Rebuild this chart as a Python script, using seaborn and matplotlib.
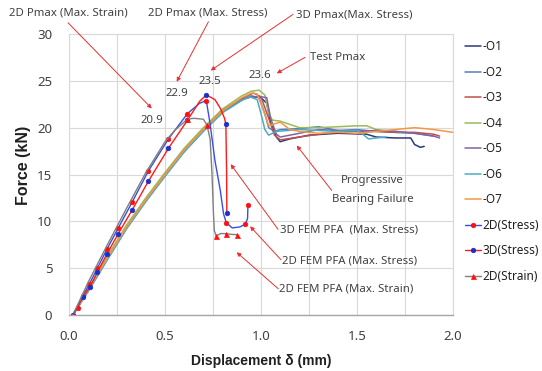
import matplotlib
matplotlib.use("Agg")
import matplotlib.pyplot as plt
from matplotlib.lines import Line2D
import seaborn as sns

# ---- measured force-displacement curves (displacement mm, force kN) ----
o1_x = [0.02, 0.1, 0.2, 0.3, 0.4, 0.5, 0.6, 0.7, 0.8, 0.9, 0.95, 1.0, 1.03, 1.05, 1.08, 1.10, 1.15, 1.25, 1.4, 1.55, 1.6, 1.7, 1.78, 1.8, 1.83, 1.85]
o1_y = [0.0, 2.6, 6.0, 9.3, 12.2, 14.9, 17.5, 19.7, 21.7, 23.0, 23.3, 23.2, 22.6, 20.5, 19.0, 18.5, 18.8, 19.2, 19.4, 19.3, 19.0, 18.9, 18.9, 18.2, 17.9, 18.0]
o2_x = [0.02, 0.1, 0.2, 0.3, 0.4, 0.5, 0.6, 0.7, 0.8, 0.9, 0.95, 0.99, 1.02, 1.04, 1.07, 1.1, 1.2, 1.3, 1.4, 1.5, 1.6, 1.7, 1.8, 1.9]
o2_y = [0.0, 2.7, 6.1, 9.4, 12.3, 15.0, 17.6, 19.8, 21.8, 23.0, 23.4, 23.2, 21.5, 20.0, 19.6, 19.8, 19.9, 20.1, 19.7, 19.8, 19.6, 19.5, 19.4, 19.1]
o3_x = [0.02, 0.1, 0.2, 0.3, 0.4, 0.5, 0.6, 0.7, 0.8, 0.9, 0.96, 1.0, 1.04, 1.07, 1.1, 1.2, 1.3, 1.4, 1.5, 1.6, 1.7, 1.8, 1.9, 1.93]
o3_y = [0.0, 2.7, 6.1, 9.5, 12.4, 15.1, 17.7, 19.9, 21.9, 23.1, 23.7, 23.3, 21.0, 19.2, 18.7, 19.0, 19.3, 19.6, 19.6, 19.6, 19.5, 19.5, 19.3, 19.1]
o4_x = [0.02, 0.1, 0.2, 0.3, 0.4, 0.5, 0.6, 0.7, 0.8, 0.9, 0.95, 0.99, 1.02, 1.04, 1.06, 1.1, 1.2, 1.3, 1.4, 1.5, 1.55, 1.6, 1.7, 1.76]
o4_y = [0.0, 2.8, 6.3, 9.6, 12.5, 15.2, 17.8, 20.0, 22.0, 23.4, 23.9, 24.0, 23.5, 21.5, 20.8, 20.7, 20.0, 20.0, 20.1, 20.2, 20.2, 19.8, 19.6, 19.5]
o5_x = [0.02, 0.1, 0.2, 0.3, 0.4, 0.5, 0.6, 0.7, 0.8, 0.9, 0.95, 1.0, 1.03, 1.05, 1.08, 1.1, 1.2, 1.3, 1.4, 1.5, 1.6, 1.7, 1.8, 1.9, 1.93]
o5_y = [0.0, 2.6, 6.0, 9.3, 12.2, 14.9, 17.5, 19.7, 21.7, 23.0, 23.3, 23.3, 23.2, 21.0, 19.3, 19.0, 19.4, 19.8, 19.7, 19.6, 19.7, 19.6, 19.4, 19.1, 18.9]
o6_x = [0.02, 0.1, 0.2, 0.3, 0.4, 0.5, 0.6, 0.7, 0.8, 0.9, 0.94, 0.98, 1.0, 1.02, 1.04, 1.08, 1.2, 1.3, 1.4, 1.5, 1.53, 1.56, 1.6, 1.65]
o6_y = [0.0, 2.5, 5.9, 9.2, 12.1, 14.8, 17.4, 19.6, 21.6, 22.9, 23.3, 23.0, 21.5, 19.8, 19.2, 19.6, 19.8, 19.7, 19.6, 19.7, 19.3, 18.8, 18.9, 19.0]
o7_x = [0.02, 0.1, 0.2, 0.3, 0.4, 0.5, 0.6, 0.7, 0.8, 0.9, 0.95, 0.98, 1.01, 1.04, 1.07, 1.1, 1.15, 1.2, 1.3, 1.4, 1.5, 1.6, 1.7, 1.8, 1.9, 2.0]
o7_y = [0.0, 2.7, 6.1, 9.4, 12.3, 15.0, 17.6, 19.8, 21.8, 23.2, 23.7, 23.6, 22.0, 20.2, 20.4, 20.6, 19.8, 19.6, 19.4, 19.5, 19.4, 19.6, 19.8, 20.0, 19.8, 19.5]

test_names = ["-O1", "-O2", "-O3", "-O4", "-O5", "-O6", "-O7"]
test_colors = ["#2b3a78", "#4f81bd", "#c0504d", "#9bbb59", "#8064a2", "#4bacc6", "#f79646"]
test_curves = [(o1_x, o1_y), (o2_x, o2_y), (o3_x, o3_y), (o4_x, o4_y),
               (o5_x, o5_y), (o6_x, o6_y), (o7_x, o7_y)]

# ---- progressive failure analysis curves ----
s2d_x = [0.02, 0.045, 0.071, 0.106, 0.148, 0.197, 0.257, 0.33, 0.414, 0.518, 0.617, 0.68, 0.715, 0.735, 0.76, 0.788, 0.805, 0.819, 0.85, 0.89, 0.918, 0.93, 0.932]
s2d_y = [0.0, 0.8, 2.0, 3.3, 5.0, 7.0, 9.3, 12.1, 15.4, 18.8, 21.5, 22.6, 22.9, 20.4, 16.5, 13.3, 10.8, 9.86, 9.3, 9.4, 9.7, 10.3, 11.75]
s2d_marks = [0, 1, 2, 3, 4, 5, 6, 7, 8, 9, 10, 12, 17, 20, 22]

s3d_x = [0.02, 0.071, 0.11, 0.148, 0.197, 0.257, 0.33, 0.414, 0.518, 0.617, 0.68, 0.715, 0.76, 0.79, 0.81, 0.817, 0.821, 0.822]
s3d_y = [0.0, 1.9, 3.0, 4.6, 6.5, 8.7, 11.25, 14.3, 17.8, 20.8, 22.8, 23.5, 23.0, 22.0, 21.0, 20.4, 15.0, 10.9]
s3d_marks = [0, 1, 2, 3, 4, 5, 6, 7, 8, 9, 11, 15, 17]

e2d_x = [0.02, 0.1, 0.2, 0.3, 0.4, 0.5, 0.55, 0.6, 0.617, 0.65, 0.70, 0.718, 0.735, 0.745, 0.752, 0.757, 0.767, 0.79, 0.819, 0.85, 0.875]
e2d_y = [0.0, 3.5, 7.5, 11.4, 15.2, 18.5, 19.7, 20.6, 20.9, 21.0, 20.9, 20.3, 18.8, 15.0, 11.0, 9.0, 8.43, 8.7, 8.68, 8.6, 8.58]
e2d_marks = [0, 8, 11, 16, 18, 20]

fem_series = [
    ("2D(Stress)", s2d_x, s2d_y, s2d_marks, "#3a4fe0", "o", "#ff1010", 3.3),
    ("3D(Stress)", s3d_x, s3d_y, s3d_marks, "#ff1a1a", "o", "#1a2fd0", 3.3),
    ("2D(Strain)", e2d_x, e2d_y, e2d_marks, "#7f7f7f", "^", "#ff1010", 3.6),
]

# ---- figure ----
sns.set_theme(style="whitegrid")
plt.rcParams["font.family"] = ["Noto Sans", "DejaVu Sans"]
txt = "#404040"
bold_font = ["Liberation Sans", "DejaVu Sans"]

fig = plt.figure(figsize=(5.42, 3.71), dpi=100)
ax = fig.add_axes([69 / 542, 1 - 315 / 371, 384 / 542, 281 / 371])

handles = []
for name, col, (xs, ys) in zip(test_names, test_colors, test_curves):
    sns.lineplot(x=xs, y=ys, sort=False, estimator=None, color=col,
                 linewidth=1.1, ax=ax)
    handles.append(Line2D([], [], color=col, linewidth=1.1, label=name))

for name, xs, ys, marks, lc, mk, mc, ms in fem_series:
    style = dict(marker=mk, markersize=ms, markerfacecolor=mc,
                 markeredgecolor=mc, markeredgewidth=0.5)
    sns.lineplot(x=xs, y=ys, sort=False, estimator=None, color=lc,
                 linewidth=1.0, markevery=marks, ax=ax, **style)
    handles.append(Line2D([], [], color=lc, linewidth=1.0, label=name, **style))

ax.set_xlim(0, 2.0)
ax.set_ylim(0, 30)
ax.set_xticks([0.0, 0.5, 1.0, 1.5, 2.0])
ax.set_xticks([0.25, 0.75, 1.25, 1.75], minor=True)
ax.set_yticks([0, 5, 10, 15, 20, 25, 30])
ax.set_xticklabels(["0.0", "0.5", "1.0", "1.5", "2.0"])
ax.grid(True, which="both", axis="x", color="#d9d9d9", linewidth=0.8)
ax.grid(True, which="major", axis="y", color="#d9d9d9", linewidth=0.8)
ax.set_axisbelow(True)
for side in ["left", "top", "right"]:
    ax.spines[side].set_color("#d9d9d9")
    ax.spines[side].set_linewidth(0.8)
ax.spines["bottom"].set_color("#a6a6a6")
ax.spines["bottom"].set_linewidth(1.0)
ax.tick_params(axis="both", which="both", length=0, labelsize=9.5, colors=txt)
ax.tick_params(axis="x", pad=11)
ax.tick_params(axis="y", pad=12)

ax.set_xlabel("Displacement δ (mm)", fontsize=10, fontweight="bold",
              family=bold_font, color="#202020", labelpad=8)
ax.set_ylabel("Force (kN)", fontsize=11.5, fontweight="bold",
              family=bold_font, color="#202020")
ax.yaxis.set_label_coords(-0.10, 0.534)

leg = ax.legend(handles=handles, loc="upper left", bbox_to_anchor=(1.02, 0.995),
                frameon=False, fontsize=8.5, handlelength=1.3, handletextpad=0.15,
                numpoints=1, labelspacing=1.06, borderaxespad=0.0)
for t in leg.get_texts():
    t.set_color("#202020")

# ---- annotations ----
arrow = dict(arrowstyle="-|>", color="#e83030", linewidth=0.7,
             mutation_scale=6, shrinkA=0, shrinkB=0)

def note(text, x, y, ha="center"):
    ax.text(x, y, text, ha=ha, va="center", fontsize=8.2, color=txt, clip_on=False)

def pointer(x0, y0, x1, y1):
    ax.annotate("", xy=(x1, y1), xytext=(x0, y0), arrowprops=arrow,
                annotation_clip=False)

note("2D Pmax (Max. Strain)", -0.003, 32.2)
pointer(-0.005, 31.2, 0.431, 22.05)
note("2D Pmax (Max. Stress)", 0.724, 32.25)
pointer(0.726, 31.3, 0.561, 24.9)
note("3D Pmax(Max. Stress)", 1.484, 32.05)
pointer(1.167, 32.1, 0.738, 26.1)
note("Test Pmax", 1.255, 27.5, ha="left")
pointer(1.229, 27.5, 1.082, 25.8)

note("20.9", 0.431, 20.8)
note("22.9", 0.561, 23.7)
note("23.5", 0.734, 24.9)
note("23.6", 0.995, 25.6)

note("Progressive", 1.577, 14.4)
note("Bearing Failure", 1.583, 12.35)
pointer(1.368, 13.3, 1.186, 18.1)

note("3D FEM PFA  (Max. Stress)", 1.458, 9.04)
pointer(1.089, 9.14, 0.842, 16.1)
note("2D FEM PFA (Max. Stress)", 1.461, 5.75)
pointer(1.104, 5.9, 0.943, 9.47)
note("2D FEM PFA (Max. Strain)", 1.445, 2.73)
pointer(1.09, 2.8, 0.873, 6.7)

fig.savefig("out.png", dpi=100)
